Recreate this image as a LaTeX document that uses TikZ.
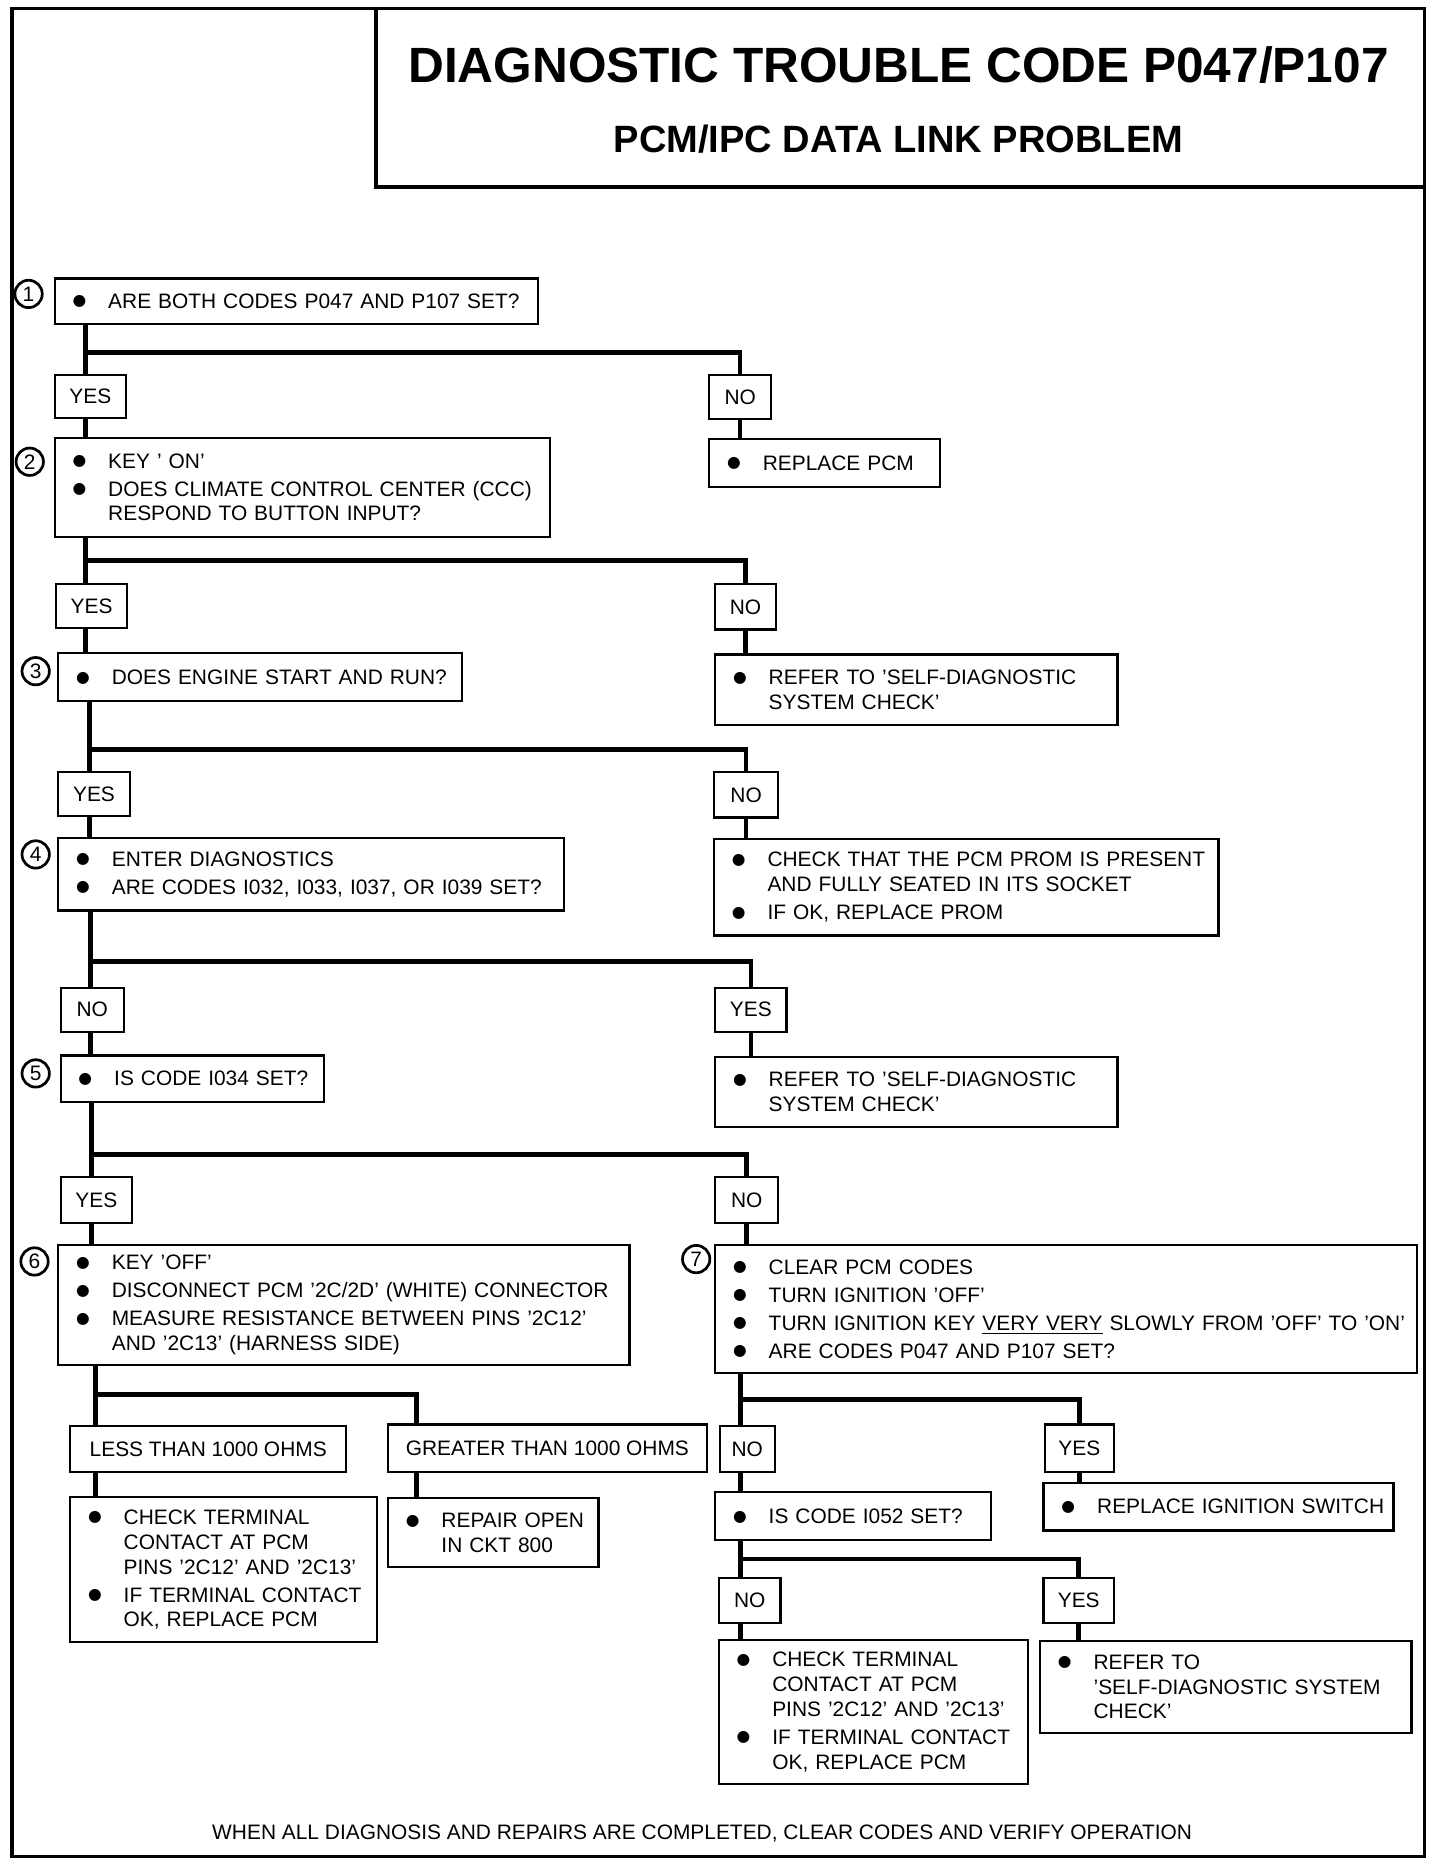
\documentclass[tikz,border=0pt]{standalone}
\usepackage{fontspec}
\setmainfont{Liberation Sans}
\newfontfamily\dotfont{DejaVu Sans}
\newcommand{\bodyfont}{\fontsize{10}{11.9}\selectfont}
\newcommand{\itm}{\hspace*{0.3cm}\makebox[0.6cm][l]{\raisebox{1.1pt}{\dotfont\fontsize{7.5}{8}\selectfont ●}}}
\newcommand{\cnt}{\hspace*{0.9cm}}
\tikzset{
  box/.style 2 args={draw, line width=1.1pt, anchor=north west, inner sep=0pt,
    minimum width=#1*0.02cm, minimum height=#2*0.02cm, text width=#1*0.02cm,
    align=left, font=\bodyfont},
  tag/.style 2 args={draw, line width=1.1pt, anchor=north west, inner sep=0pt,
    minimum width=#1*0.02cm, minimum height=#2*0.02cm, font=\bodyfont},
  num/.style={circle, draw, line width=1.3pt, inner sep=0pt, minimum size=0.46cm, font=\bodyfont},
  wire/.style={line width=2.2pt},
  frame/.style={line width=1.6pt}
}
\begin{document}
\begin{tikzpicture}[x=0.02cm, y=-0.02cm]
  \useasboundingbox (0,0) rectangle (1210,1568);
  \draw[frame] (10,7) rectangle (1197,1560);% outer frame
  \draw[frame] (316,7) rectangle (1197,157);% title box
  \node[font=\fontsize{23.7}{28}\selectfont\bfseries] (title) at (755,55) {DIAGNOSTIC TROUBLE CODE P047/P107};
  \node[font=\fontsize{18.2}{22}\selectfont\bfseries] (subtitle) at (755,117) {PCM/IPC DATA LINK PROBLEM};

  % step 1
  \node[num] (c1) at (24,247) {1};
  \node[box={406}{38}] (q1) at (45,233) {\itm ARE BOTH CODES P047 AND P107 SET?};
  \node[tag={60}{36}] (y1) at (45,314) {YES};
  \node[tag={52}{37}] (n1) at (595,314) {NO};
  \node[box={194}{40}] (a1) at (595,368) {\itm REPLACE PCM};

  % step 2
  \node[num] (c2) at (25,388) {2};
  \node[box={416}{83}] (q2) at (45,367) {\itm KEY ' ON'\\[1.5pt]
    \itm DOES CLIMATE CONTROL CENTER (CCC)\\ \cnt RESPOND TO BUTTON INPUT?};
  \node[tag={60}{37}] (y2) at (46,490) {YES};
  \node[tag={51}{38}] (n2) at (600,490) {NO};
  \node[box={338}{59}] (a2) at (600,549) {\itm REFER TO 'SELF-DIAGNOSTIC\\ \cnt SYSTEM CHECK'};

  % step 3
  \node[num] (c3) at (30,564) {3};
  \node[box={339}{40}] (q3) at (48,548) {\itm DOES ENGINE START AND RUN?};
  \node[tag={60}{37}] (y3) at (48,648) {YES};
  \node[tag={54}{38}] (n3) at (599,648) {NO};
  \node[box={424}{81}] (a3) at (599,704) {\itm CHECK THAT THE PCM PROM IS PRESENT\\
    \cnt AND FULLY SEATED IN ITS SOCKET\\[1.5pt] \itm IF OK, REPLACE PROM};

  % step 4
  \node[num] (c4) at (30,718) {4};
  \node[box={425}{61}] (q4) at (48,703) {\itm ENTER DIAGNOSTICS\\[1.5pt]
    \itm ARE CODES I032, I033, I037, OR I039 SET?};
  \node[tag={53}{37}] (n4) at (50,829) {NO};
  \node[tag={60}{37}] (y4) at (600,829) {YES};
  \node[box={338}{59}] (a4) at (600,887) {\itm REFER TO 'SELF-DIAGNOSTIC\\ \cnt SYSTEM CHECK'};

  % step 5
  \node[num] (c5) at (30,902) {5};
  \node[box={221}{39}] (q5) at (50,886) {\itm IS CODE I034 SET?};
  \node[tag={60}{39}] (y5) at (50,988) {YES};
  \node[tag={53}{39}] (n5) at (600,988) {NO};

  % step 6
  \node[num] (c6) at (29,1060) {6};
  \node[box={480}{101}] (q6) at (48,1045) {\itm KEY 'OFF'\\[1.5pt]
    \itm DISCONNECT PCM '2C/2D' (WHITE) CONNECTOR\\[1.5pt]
    \itm MEASURE RESISTANCE BETWEEN PINS '2C12'\\ \cnt AND '2C13' (HARNESS SIDE)};
  \node[tag={232}{39}] (r1) at (58,1197) {LESS THAN 1000 OHMS};
  \node[tag={268}{40}] (r2) at (325,1196) {GREATER THAN 1000 OHMS};
  \node[box={258}{122}] (a5) at (58,1257) {\itm CHECK TERMINAL\\ \cnt CONTACT AT PCM\\
    \cnt PINS '2C12' AND '2C13'\\[1.5pt] \itm IF TERMINAL CONTACT\\ \cnt OK, REPLACE PCM};
  \node[box={177}{58}] (a6) at (325,1258) {\itm REPAIR OPEN\\ \cnt IN CKT 800};

  % step 7
  \node[num] (c7) at (585,1058) {7};
  \node[box={590}{108}] (q7) at (600,1045) {\itm CLEAR PCM CODES\\[1.5pt]
    \itm TURN IGNITION 'OFF'\\[1.5pt]
    \itm TURN IGNITION KEY \underline{VERY VERY} SLOWLY FROM 'OFF' TO 'ON'\\[1.5pt]
    \itm ARE CODES P047 AND P107 SET?};
  \node[tag={46}{39}] (n7) at (604,1197) {NO};
  \node[tag={58}{40}] (y7) at (877,1196) {YES};
  \node[box={232}{40}] (q8) at (600,1253) {\itm IS CODE I052 SET?};
  \node[box={294}{40}] (a7) at (876,1245) {\itm REPLACE IGNITION SWITCH};
  \node[tag={52}{38}] (n8) at (603,1325) {NO};
  \node[tag={59}{38}] (y8) at (876,1325) {YES};
  \node[box={260}{121}] (a8) at (603,1377) {\itm CHECK TERMINAL\\ \cnt CONTACT AT PCM\\
    \cnt PINS '2C12' AND '2C13'\\[1.5pt] \itm IF TERMINAL CONTACT\\ \cnt OK, REPLACE PCM};
  \node[box={312}{77}] (a9) at (873,1378) {\itm REFER TO\\ \cnt 'SELF-DIAGNOSTIC SYSTEM\\ \cnt CHECK'};

  \node[font=\bodyfont] (foot) at (590,1541) {WHEN ALL DIAGNOSIS AND REPAIRS ARE COMPLETED, CLEAR CODES AND VERIFY OPERATION};

  % junctions
  \coordinate (j1) at (72,296);
  \coordinate (j2) at (72,471);
  \coordinate (j3) at (75,630);
  \coordinate (j4) at (76,808);
  \coordinate (j5) at (77,970);
  \coordinate (j6) at (80,1172);
  \coordinate (k6) at (350,1172);
  \coordinate (j7) at (622,1176);
  \coordinate (j8) at (622,1310);

  \draw[wire] (q1.south -| j1) -- (y1.north -| j1);
  \draw[wire] (j1) -| (n1.north);
  \draw[wire] (y1.south -| j1) -- (q2.north -| j1);
  \draw[wire] (n1.south) -- (n1.south |- a1.north);

  \draw[wire] (q2.south -| j2) -- (y2.north -| j2);
  \draw[wire] (j2) -| (n2.north);
  \draw[wire] (y2.south -| j2) -- (q3.north -| j2);
  \draw[wire] (n2.south) -- (n2.south |- a2.north);

  \draw[wire] (q3.south -| j3) -- (y3.north -| j3);
  \draw[wire] (j3) -| (n3.north);
  \draw[wire] (y3.south -| j3) -- (q4.north -| j3);
  \draw[wire] (n3.south) -- (n3.south |- a3.north);

  \draw[wire] (q4.south -| j4) -- (n4.north -| j4);
  \draw[wire] (j4) -| (y4.north);
  \draw[wire] (n4.south -| j4) -- (q5.north -| j4);
  \draw[wire] (y4.south) -- (y4.south |- a4.north);

  \draw[wire] (q5.south -| j5) -- (y5.north -| j5);
  \draw[wire] (j5) -| (n5.north);
  \draw[wire] (y5.south -| j5) -- (q6.north -| j5);
  \draw[wire] (n5.south) -- (n5.south |- q7.north);

  \draw[wire] (q6.south -| j6) -- (r1.north -| j6);
  \draw[wire] (j6) -- (k6) -- (r2.north -| k6);
  \draw[wire] (r1.south -| j6) -- (a5.north -| j6);
  \draw[wire] (r2.south -| k6) -- (a6.north -| k6);

  \draw[wire] (q7.south -| j7) -- (n7.north -| j7);
  \draw[wire] (j7) -| (y7.north);
  \draw[wire] (n7.south -| j7) -- (q8.north -| j7);
  \draw[wire] (y7.south) -- (y7.south |- a7.north);

  \draw[wire] (q8.south -| j8) -- (n8.north -| j8);
  \draw[wire] (j8) -| (y8.north);
  \draw[wire] (n8.south -| j8) -- (a8.north -| j8);
  \draw[wire] (y8.south) -- (y8.south |- a9.north);
\end{tikzpicture}
\end{document}
